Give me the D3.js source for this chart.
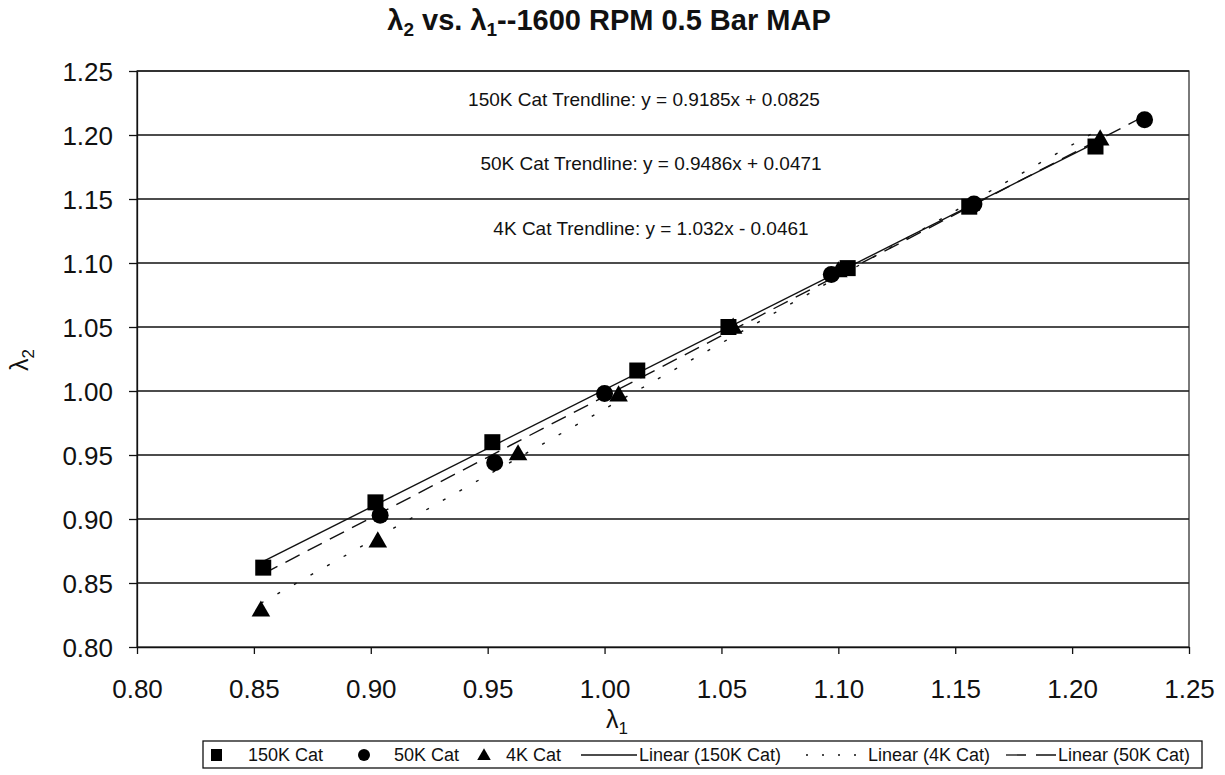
<!DOCTYPE html>
<html>
<head>
<meta charset="utf-8">
<script src="https://cdn.jsdelivr.net/npm/d3@7"></script>
<style>
body{margin:0;background:#fff}
svg text{font-family:"Liberation Sans",Arial,sans-serif;fill:#111}
</style>
</head>
<body>
<svg id="chart"></svg>
<script>
// data
var cat150x = [0.854, 0.902, 0.952, 1.014, 1.053, 1.104, 1.156, 1.210]
var cat150y = [0.862, 0.913, 0.960, 1.016, 1.050, 1.096, 1.144, 1.191]
var cat50x = [0.904, 0.953, 1.000, 1.097, 1.158, 1.231]
var cat50y = [0.903, 0.944, 0.998, 1.091, 1.146, 1.212]
var cat4x = [0.853, 0.903, 0.963, 1.006, 1.055, 1.100, 1.212]
var cat4y = [0.828, 0.882, 0.950, 0.996, 1.049, 1.093, 1.196]

// trendline coefficients [slope, intercept] and x range
var trend150 = [0.9185, 0.0825], trend150range = [0.854, 1.210]
var trend50 = [0.9486, 0.0471], trend50range = [0.854, 1.231]
var trend4 = [1.032, -0.0461], trend4range = [0.853, 1.212]

var trendLabels = ["150K Cat Trendline: y = 0.9185x + 0.0825",
                   "50K Cat Trendline: y = 0.9486x + 0.0471",
                   "4K Cat Trendline: y = 1.032x - 0.0461"]
var ticks = [0.80, 0.85, 0.90, 0.95, 1.00, 1.05, 1.10, 1.15, 1.20, 1.25]
var legendNames = ["150K Cat", "50K Cat", "4K Cat", "Linear (150K Cat)", "Linear (4K Cat)", "Linear (50K Cat)"]

var screen = {width:1225, height:775}
var plot = {left:137, right:1189, top:71, bottom:647}

var svg = d3.select("#chart").attr("width", screen.width).attr("height", screen.height)

var xScale = d3.scaleLinear().domain([0.8, 1.25]).range([plot.left, plot.right])
var yScale = d3.scaleLinear().domain([0.8, 1.25]).range([plot.bottom, plot.top])

var pairs = function(xs, ys){
    return xs.map(function(x, i){ return {x:x, y:ys[i]} })
}

// gridlines
svg.append("g")
  .selectAll("line")
  .data(ticks.slice(1))
  .enter()
  .append("line")
  .attr("x1", plot.left).attr("x2", plot.right)
  .attr("y1", function(d){ return yScale(d) })
  .attr("y2", function(d){ return yScale(d) })
  .attr("stroke", "#111").attr("stroke-width", 1.3)

svg.append("rect")
  .attr("x", plot.left).attr("y", plot.top)
  .attr("width", plot.right - plot.left).attr("height", plot.bottom - plot.top)
  .attr("fill", "none").attr("stroke", "#222").attr("stroke-width", 1.2)

// axes
var xAxis = d3.axisBottom(xScale).tickValues(ticks).tickFormat(d3.format(".2f")).tickSizeInner(7).tickSizeOuter(0).tickPadding(26)
var yAxis = d3.axisLeft(yScale).tickValues(ticks).tickFormat(d3.format(".2f")).tickSizeInner(8).tickSizeOuter(0).tickPadding(16)

var gx = svg.append("g").attr("transform", "translate(0," + plot.bottom + ")").call(xAxis)
var gy = svg.append("g").attr("transform", "translate(" + plot.left + ",0)").call(yAxis)
;[gx, gy].forEach(function(g){
    g.select(".domain").attr("stroke", "#111").attr("stroke-width", 1.3)
    g.selectAll(".tick line").attr("stroke", "#111").attr("stroke-width", 1.3)
    g.selectAll(".tick text").attr("font-size", 26).attr("fill", "#111")
       .style("font-family", "'Liberation Sans', Arial, sans-serif")
})
gy.selectAll(".tick text").attr("dy", "0.36em")

// trendlines
var trendData = [
    {c:trend150, r:trend150range, dash:null},
    {c:trend4, r:trend4range, dash:"3,16"},
    {c:trend50, r:trend50range, dash:"16,9"}
]
svg.append("g")
  .selectAll("line")
  .data(trendData)
  .enter()
  .append("line")
  .attr("x1", function(d){ return xScale(d.r[0]) })
  .attr("x2", function(d){ return xScale(d.r[1]) })
  .attr("y1", function(d){ return yScale(d.c[0]*d.r[0] + d.c[1]) })
  .attr("y2", function(d){ return yScale(d.c[0]*d.r[1] + d.c[1]) })
  .attr("stroke", "#111").attr("stroke-width", 1.4)
  .attr("stroke-dasharray", function(d){ return d.dash })

// markers
var sq = 16
svg.append("g").selectAll("rect")
  .data(pairs(cat150x, cat150y)).enter().append("rect")
  .attr("x", function(d){ return xScale(d.x) - sq/2 })
  .attr("y", function(d){ return yScale(d.y) - sq/2 })
  .attr("width", sq).attr("height", sq).attr("fill", "#000")

svg.append("g").selectAll("circle")
  .data(pairs(cat50x, cat50y)).enter().append("circle")
  .attr("cx", function(d){ return xScale(d.x) })
  .attr("cy", function(d){ return yScale(d.y) })
  .attr("r", 8.5).attr("fill", "#000")

var tri = d3.symbol().type(d3.symbolTriangle).size(150)
svg.append("g").selectAll("path")
  .data(pairs(cat4x, cat4y)).enter().append("path")
  .attr("d", tri)
  .attr("transform", function(d){ return "translate(" + xScale(d.x) + "," + yScale(d.y) + ")" })
  .attr("fill", "#000")

// trendline equations
var labelPos = [[644, 106], [651, 170], [651, 235]]
svg.append("g").selectAll("text")
  .data(trendLabels).enter().append("text")
  .attr("x", function(d, i){ return labelPos[i][0] })
  .attr("y", function(d, i){ return labelPos[i][1] })
  .attr("text-anchor", "middle")
  .attr("font-size", 19)
  .text(function(d){ return d })

// title
var title = svg.append("text").attr("x", 609).attr("y", 30).attr("text-anchor", "middle")
  .attr("font-size", 29).attr("font-weight", "bold")
title.append("tspan").text("λ")
title.append("tspan").attr("font-size", 19).attr("dy", 6).text("2")
title.append("tspan").attr("dy", -6).text(" vs. λ")
title.append("tspan").attr("font-size", 19).attr("dy", 6).text("1")
title.append("tspan").attr("dy", -6).text("--1600 RPM 0.5 Bar MAP")

// axis titles
var xt = svg.append("text").attr("x", 617).attr("y", 728).attr("text-anchor", "middle").attr("font-size", 25)
xt.append("tspan").text("λ")
xt.append("tspan").attr("font-size", 17).attr("dy", 6).text("1")

var yt = svg.append("text").attr("transform", "translate(28,360) rotate(-90)").attr("text-anchor", "middle").attr("font-size", 25)
yt.append("tspan").text("λ")
yt.append("tspan").attr("font-size", 17).attr("dy", 6).text("2")

// legend
var lg = svg.append("g")
lg.append("rect").attr("x", 203).attr("y", 741).attr("width", 999).attr("height", 27)
  .attr("fill", "#fff").attr("stroke", "#111").attr("stroke-width", 1.3)
var ly = 755
lg.append("rect").attr("x", 211).attr("y", ly - 6).attr("width", 11).attr("height", 12).attr("fill", "#000")
lg.append("circle").attr("cx", 364).attr("cy", ly).attr("r", 6).attr("fill", "#000")
lg.append("path").attr("d", d3.symbol().type(d3.symbolTriangle).size(80)).attr("transform", "translate(484," + (ly + 1) + ")").attr("fill", "#000")
lg.append("line").attr("x1", 581).attr("x2", 637).attr("y1", ly).attr("y2", ly).attr("stroke", "#111").attr("stroke-width", 1.3)
lg.append("line").attr("x1", 806).attr("x2", 858).attr("y1", ly).attr("y2", ly).attr("stroke", "#111").attr("stroke-width", 1.6).attr("stroke-dasharray", "2,14")
lg.append("line").attr("x1", 1006).attr("x2", 1056).attr("y1", ly).attr("y2", ly).attr("stroke", "#111").attr("stroke-width", 1.3).attr("stroke-dasharray", "20,10")
var legendX = [248, 394, 506, 639, 868, 1058]
lg.selectAll("text.lt").data(legendNames).enter().append("text")
  .attr("class", "lt")
  .attr("x", function(d, i){ return legendX[i] })
  .attr("y", ly + 6)
  .attr("font-size", 18)
  .text(function(d){ return d })
</script>
</body>
</html>
